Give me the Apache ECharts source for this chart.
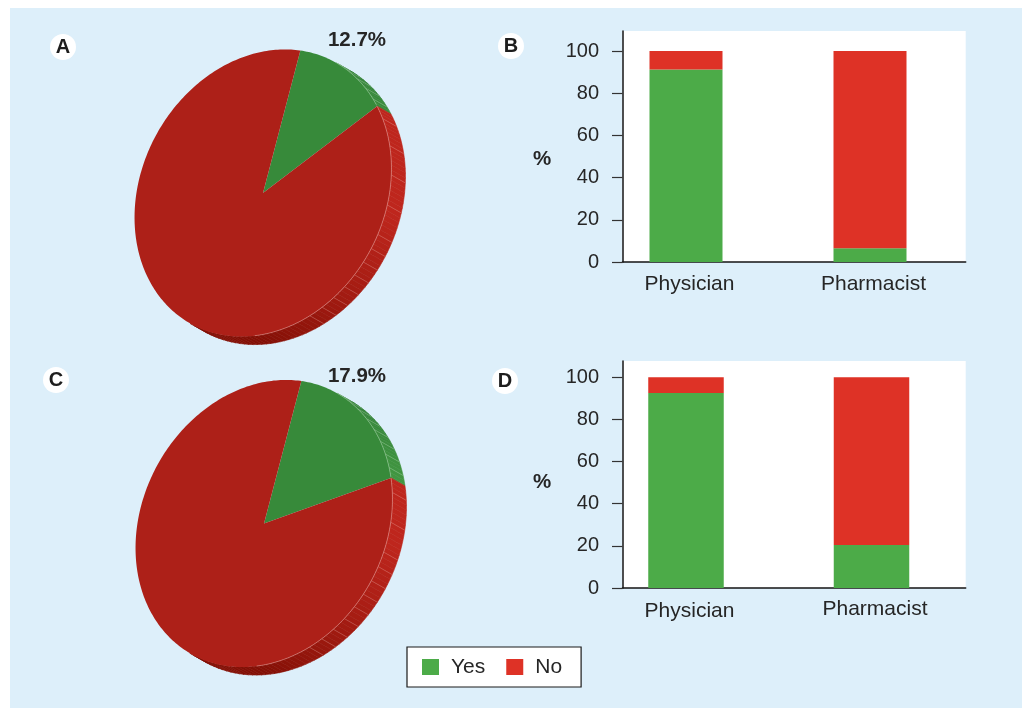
<!DOCTYPE html>
<html>
<head>
<meta charset="utf-8">
<title>Yes and No responses by survey group</title>
<script src="https://cdn.jsdelivr.net/npm/echarts@6/dist/echarts.min.js"></script>
<style>
  html, body { margin: 0; padding: 0; background: #ffffff; }
  #panel { position: absolute; left: 10px; top: 8px; width: 1012px; height: 700px; background: #ddeffa; }
  #chart { position: absolute; left: 0; top: 0; width: 1022px; height: 708px; }
</style>
</head>
<body>
<div id="panel"></div>
<div id="chart"></div>
<script>
// Response shares for the two pies, as [Yes, No]
const pieASharesPct = [12.7, 87.3];
const pieCSharesPct = [17.9, 82.1];

// Stacked bars by profession
const professions = ['Physician', 'Pharmacist'];
const barBYes = [91.2, 6.5];
const barBNo = [8.8, 93.5];
const barDYes = [92.5, 20.4];
const barDNo = [7.5, 79.6];
const percentTicks = [0, 20, 40, 60, 80, 100];

const YES = '#4cab48';
const NO = '#de3226';
const FONT = '"Liberation Sans", Arial, sans-serif';
const INK = '#262626';

// A pie is a unit circle mapped onto a tilted ellipse, extruded along `depth`
const DISC = { a: 149.4, b: 121.6, tiltDeg: 28.5, depth: [14, 8], startDeg: -16.8 };
const rad = d => d * Math.PI / 180;
const e1 = [Math.sin(rad(DISC.tiltDeg)), -Math.cos(rad(DISC.tiltDeg))];
const e2 = [Math.cos(rad(DISC.tiltDeg)), Math.sin(rad(DISC.tiltDeg))];

function rimPoint(c, deg, shift) {
  const x = DISC.a * Math.cos(rad(deg));
  const y = DISC.b * Math.sin(rad(deg));
  const s = shift || [0, 0];
  return [c[0] + x * e1[0] + y * e2[0] + s[0], c[1] + x * e1[1] + y * e2[1] + s[1]];
}
function faces(deg) {
  const nx = Math.cos(rad(deg)) / DISC.a, ny = Math.sin(rad(deg)) / DISC.b;
  const n = [nx * e1[0] + ny * e2[0], nx * e1[1] + ny * e2[1]];
  return n[0] * DISC.depth[0] + n[1] * DISC.depth[1] > 0;
}
function mix(from, to, k) {
  const u = Math.max(0, Math.min(1, k));
  return 'rgb(' + from.map((v, i) => Math.round(v + (to[i] - v) * u)).join(',') + ')';
}
function wallColor(deg, isYes) {
  if (isYes) return mix([46, 122, 52], [66, 150, 66], (deg + 5) / 50);
  return mix([190, 38, 29], [131, 15, 5], (deg - 72) / 78);
}

function pieSeries(name, center, shares) {
  return {
    type: 'custom',
    name: name,
    coordinateSystem: 'none',
    silent: true,
    animation: false,
    data: shares.map(v => [v]),
    renderItem: function (params, api) {
      const i = params.dataIndex;
      const total = shares.reduce((s, v) => s + v, 0);
      const before = shares.slice(0, i).reduce((s, v) => s + v, 0);
      const from = DISC.startDeg + before / total * 360;
      const to = from + api.value(0) / total * 360;
      const isYes = i === 0;
      const children = [];

      // side wall
      for (let t = from; t < to; t += 2) {
        const t2 = Math.min(t + 2, to);
        if (!faces((t + t2) / 2)) continue;
        const col = wallColor(t, isYes);
        children.push({
          type: 'polygon',
          shape: { points: [rimPoint(center, t), rimPoint(center, t2), rimPoint(center, t2, DISC.depth), rimPoint(center, t, DISC.depth)] },
          style: { fill: col, stroke: col, lineWidth: 0.6 }
        });
      }
      // panel seams across the wall
      const seam = isYes ? 'rgba(205,235,205,0.4)' : 'rgba(255,205,200,0.32)';
      for (let t = from + 6; t < to && t < 130; t += (!isYes && t < 72) ? 12 : 6) {
        if (!faces(t)) continue;
        children.push({
          type: 'line',
          shape: { x1: rimPoint(center, t)[0], y1: rimPoint(center, t)[1], x2: rimPoint(center, t, DISC.depth)[0], y2: rimPoint(center, t, DISC.depth)[1] },
          style: { stroke: seam, lineWidth: 0.7 }
        });
      }
      // top face
      const top = [center];
      for (let t = from; t < to; t += 1) top.push(rimPoint(center, t));
      top.push(rimPoint(center, to));
      children.push({
        type: 'polygon',
        shape: { points: top },
        style: { fill: isYes ? '#378a3a' : '#ad2018' }
      });
      // highlight along the rim where the wall shows
      const rim = [];
      for (let t = from; t <= to; t += 1) if (faces(t) && t < 150) rim.push(rimPoint(center, t));
      if (rim.length > 1) {
        children.push({
          type: 'polyline',
          shape: { points: rim },
          style: { stroke: isYes ? 'rgba(205,235,205,0.5)' : 'rgba(255,205,200,0.5)', lineWidth: 0.8, fill: null }
        });
      }
      return { type: 'group', children: children };
    }
  };
}

function gridFrame(top, bottom) {
  return { left: 622.5, width: 343.2, top: top, height: bottom - top, show: true, backgroundColor: '#ffffff', borderWidth: 0 };
}
// `drops` nudges each profession label downward by a few pixels
function xAxisFor(gridIndex, unitPx, drops) {
  const labelStyle = { color: INK, fontFamily: FONT, fontSize: 21 };
  const rich = {};
  professions.forEach((p, i) => {
    rich['n' + i] = Object.assign({ padding: [drops[i], 0, 0, 7] }, labelStyle);
  });
  return {
    type: 'value', gridIndex: gridIndex,
    min: (622.5 - 686) / unitPx,
    max: (965.7 - 686) / unitPx,
    splitLine: { show: false },
    axisTick: { show: false },
    axisLine: { show: true, onZero: false, lineStyle: { color: '#151515', width: 1.5 } },
    axisLabel: {
      customValues: [0, 1],
      formatter: v => '{n' + Math.round(v) + '|' + professions[Math.round(v)] + '}',
      rich: rich,
      margin: 11
    }
  };
}
function yAxisFor(gridIndex, max) {
  return {
    type: 'value', gridIndex: gridIndex, min: 0, max: max,
    splitLine: { show: false },
    axisLine: { show: true, onZero: false, lineStyle: { color: '#151515', width: 1.5 } },
    axisTick: { show: true, length: 10.5, customValues: percentTicks, lineStyle: { color: '#333333', width: 1.2 } },
    axisLabel: { customValues: percentTicks, color: INK, fontFamily: FONT, fontSize: 20, margin: 23.5, padding: [2, 0, 0, 0] }
  };
}
function barSeries(name, color, values, axisIndex, stack, width) {
  return {
    type: 'bar', name: name, stack: stack,
    xAxisIndex: axisIndex, yAxisIndex: axisIndex,
    barWidth: width, animation: false, silent: true,
    itemStyle: { color: color },
    // the percentage comes first so that it is the dimension being stacked
    encode: { x: 1, y: 0 },
    data: values.map((v, i) => [v, i])
  };
}
function panelTag(letter, x, y) {
  return [
    { type: 'circle', shape: { cx: x, cy: y, r: 13 }, style: { fill: '#ffffff' }, silent: true },
    { type: 'text', x: x, y: y, style: { text: letter, fill: '#1d1d1d', font: 'bold 20px ' + FONT, align: 'center', verticalAlign: 'middle' }, silent: true }
  ];
}
function boldText(text, x, y) {
  return { type: 'text', x: x, y: y, silent: true,
    style: { text: text, fill: INK, font: 'bold 20.5px ' + FONT, align: 'center', verticalAlign: 'middle' } };
}

const chart = echarts.init(document.getElementById('chart'), null, { renderer: 'canvas' });
chart.setOption({
  backgroundColor: 'transparent',
  animation: false,
  legend: {
    data: ['Yes', 'No'],
    left: 407, top: 647,
    orient: 'horizontal',
    backgroundColor: '#ffffff',
    borderColor: '#1a1a1a', borderWidth: 1.2, borderRadius: 0,
    padding: [9.5, 19, 9.5, 15],
    itemWidth: 17, itemHeight: 16, itemGap: 21,
    icon: 'rect',
    selectedMode: false,
    textStyle: { color: INK, fontFamily: FONT, fontSize: 21, padding: [0, 0, 0, 7] }
  },
  grid: [gridFrame(31, 262), gridFrame(361, 588)],
  xAxis: [xAxisFor(0, 184, [1, 1]), xAxisFor(1, 185.5, [2, 0])],
  yAxis: [yAxisFor(0, 109.5), yAxisFor(1, 107.7)],
  series: [
    barSeries('Yes', YES, barBYes, 0, 'B', 73),
    barSeries('No', NO, barBNo, 0, 'B', 73),
    barSeries('Yes', YES, barDYes, 1, 'D', 75.5),
    barSeries('No', NO, barDNo, 1, 'D', 75.5),
    pieSeries('Panel A', [263, 193], pieASharesPct),
    pieSeries('Panel C', [264, 523.5], pieCSharesPct)
  ],
  graphic: [
    ...panelTag('A', 63, 47),
    ...panelTag('B', 511, 46),
    ...panelTag('C', 56, 380),
    ...panelTag('D', 505, 381),
    boldText('12.7%', 357, 40),
    boldText('17.9%', 357, 376),
    boldText('%', 542, 159),
    boldText('%', 542, 482)
  ]
});
</script>
</body>
</html>
